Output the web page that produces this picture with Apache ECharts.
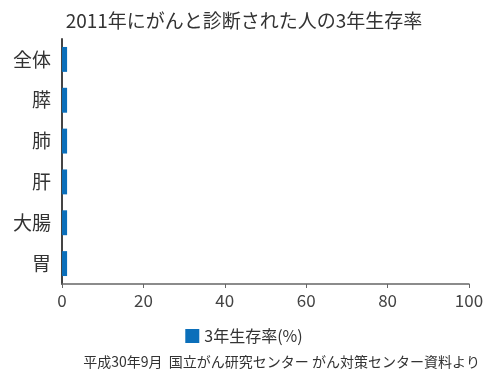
<!DOCTYPE html>
<html><head><meta charset="utf-8">
<script src="https://cdn.jsdelivr.net/npm/echarts@6/dist/echarts.min.js"></script>
<style>html,body{margin:0;padding:0;background:#fff}#c{width:488px;height:382px}</style>
</head><body><div id="c"></div>
<script>
const categories = ['全体','膵','肺','肝','大腸','胃'];
const values = [1.25,1.25,1.25,1.25,1.25,1.25];
const xTicks = [0,20,40,60,80,100];
const font = '"Noto Sans CJK JP", "Noto Sans", sans-serif';
const chart = echarts.init(document.getElementById('c'));
chart.setOption({
  animation:false,
  textStyle:{fontFamily:font},
  title:{text:'2011年にがんと診断された人の3年生存率',left:'center',top:6,
    textStyle:{fontSize:19,fontWeight:'normal',color:'#333',fontFamily:font}},
  grid:{left:62,right:19,top:39,bottom:98,containLabel:false},
  legend:{data:['3年生存率(%)'],bottom:33,left:'center',icon:'rect',itemWidth:14,itemHeight:14,itemGap:6,
    textStyle:{fontSize:16,color:'#333',fontFamily:font}},
  graphic:[{type:'text',right:8,top:355,style:{text:'平成30年9月  国立がん研究センター がん対策センター資料より',fontSize:14,fill:'#333',fontFamily:font}}],
  xAxis:{type:'value',min:xTicks[0],max:xTicks[xTicks.length-1],interval:20,
    axisLine:{show:true,lineStyle:{color:'#666',width:1.5}},
    axisTick:{show:true,length:4,lineStyle:{color:'#666'}},
    splitLine:{show:false},
    axisLabel:{fontSize:17,color:'#444',margin:8,fontFamily:font}},
  yAxis:{type:'category',data:categories,inverse:true,
    axisLine:{show:true,lineStyle:{color:'#444',width:2}},
    axisTick:{show:false},
    axisLabel:{fontSize:19,color:'#333',margin:11,fontFamily:font}},
  series:[{name:'3年生存率(%)',type:'bar',data:values,barCategoryGap:'39%',
    itemStyle:{color:'#0b6fba'}}]
});
</script></body></html>
